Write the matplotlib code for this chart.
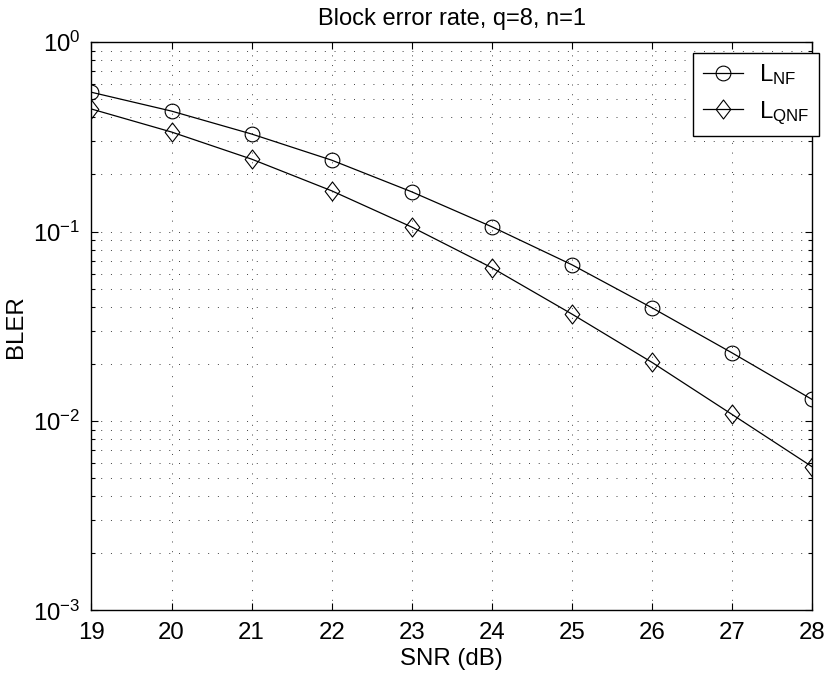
import matplotlib
matplotlib.use("Agg")
import matplotlib.pyplot as plt
from matplotlib.path import Path
from matplotlib.ticker import LogLocator, NullFormatter

plt.rcParams['font.family'] = ['Liberation Sans', 'DejaVu Sans']
plt.rcParams['mathtext.fontset'] = 'custom'
plt.rcParams['mathtext.rm'] = 'Liberation Sans'
plt.rcParams['mathtext.it'] = 'Liberation Sans'

snr = [19, 20, 21, 22, 23, 24, 25, 26, 27, 28]
bler_nf = [0.543, 0.432, 0.327, 0.238, 0.162, 0.106, 0.0668, 0.0396, 0.0229, 0.0130]
bler_qnf = [0.443, 0.335, 0.241, 0.164, 0.1056, 0.0644, 0.0367, 0.0204, 0.01084, 0.00574]
labels = [r'L$_{\mathregular{NF}}$', r'L$_{\mathregular{QNF}}$']
xticks = [19, 20, 21, 22, 23, 24, 25, 26, 27, 28]

FS = 17.3
fig = plt.figure(figsize=(8.28, 6.79), dpi=100)
ax = fig.add_axes([0.1105, 0.1009, 0.9807 - 0.1105, 0.9381 - 0.1009])

diamond = Path([(0, 1), (0.77, 0), (0, -1), (-0.77, 0), (0, 1)],
               [Path.MOVETO, Path.LINETO, Path.LINETO, Path.LINETO, Path.CLOSEPOLY])

ax.plot(snr, bler_nf, color='k', lw=0.9, marker='o', ms=10.6, mfc='none',
        mec='k', mew=0.8, label=labels[0])
ax.plot(snr, bler_qnf, color='k', lw=0.9, marker=diamond, ms=13.7, mfc='none',
        mec='k', mew=0.8, label=labels[1])

ax.set_yscale('log')
ax.set_xlim(19, 28)
ax.set_ylim(1e-3, 1e0)
ax.set_xticks(xticks)
ax.yaxis.set_major_locator(LogLocator(base=10, numticks=10))
ax.yaxis.set_minor_locator(LogLocator(base=10, subs=range(2, 10), numticks=10))
ax.yaxis.set_minor_formatter(NullFormatter())

gridstyle = dict(color='0.25', linestyle=(0, (1, 9)), linewidth=0.7)
ax.grid(True, which='major', axis='x', **gridstyle)
ax.grid(True, which='both', axis='y', **gridstyle)

ax.tick_params(which='both', direction='in', top=True, right=True,
               labelsize=FS, width=0.8, pad=8)
ax.tick_params(which='major', length=5)
ax.tick_params(which='minor', length=3)
for s in ax.spines.values():
    s.set_linewidth(1.0)

ax.set_title('Block error rate, q=8, n=1', fontsize=17.0, pad=12)
ax.set_xlabel('SNR (dB)', fontsize=FS, labelpad=3)
ax.set_ylabel('BLER', fontsize=FS, labelpad=4)

leg = ax.legend(loc='upper right', bbox_to_anchor=(0.9888, 0.9224),
                bbox_transform=fig.transFigure, borderaxespad=0,
                fontsize=FS, frameon=True, fancybox=False, framealpha=1,
                edgecolor='k', handlelength=1.66, handletextpad=0.67,
                borderpad=0.4, labelspacing=0.5)
leg.get_frame().set_linewidth(1.0)

fig.savefig('out.png', dpi=100)
